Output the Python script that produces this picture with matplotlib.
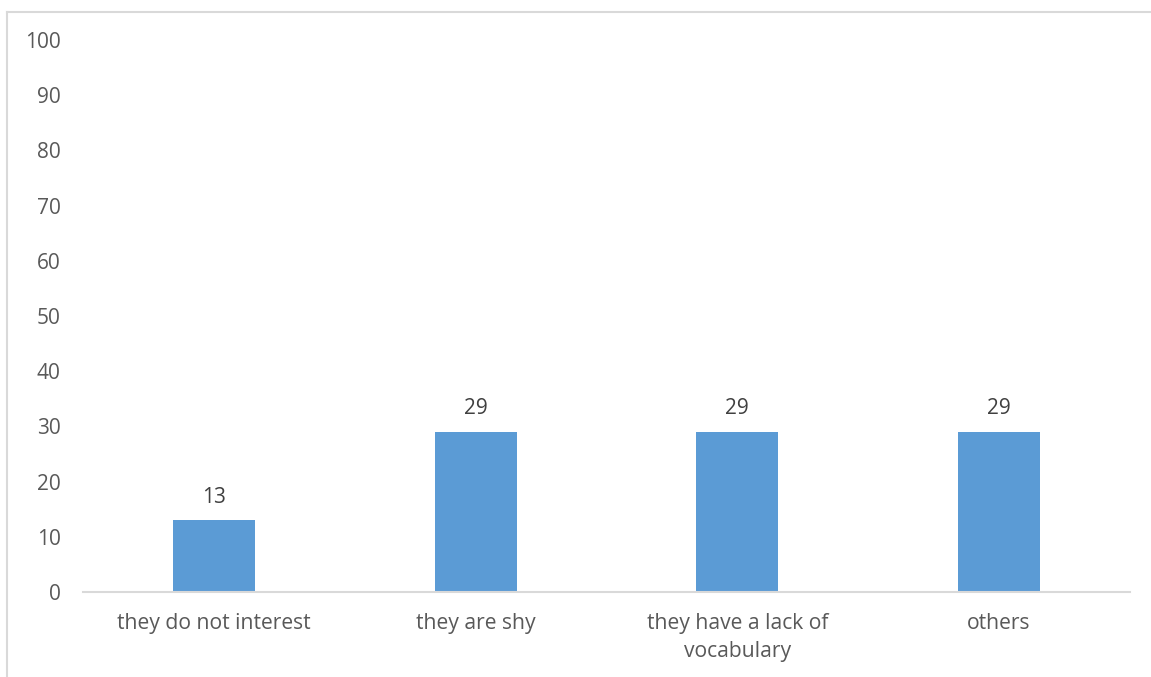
import matplotlib
matplotlib.use("Agg")
from matplotlib import pyplot as plt
from matplotlib.lines import Line2D

categories = ["they do not interest", "they are shy", "they have a lack of\nvocabulary", "others"]
values = [13, 29, 29, 29]
yticks = [0, 10, 20, 30, 40, 50, 60, 70, 80, 90, 100]

W, H = 1151, 677
plt.rcParams['font.family'] = ['Open Sans', 'DejaVu Sans']
text_color = "#595959"

fig = plt.figure(figsize=(W / 100, H / 100), dpi=100)
# outer chart border (top and left edges only are visible)
frame_kw = dict(transform=fig.transFigure, color="#d9d9d9", linewidth=1.5)
fig.lines.append(Line2D([7.5 / W, 1], [1 - 11.5 / H, 1 - 11.5 / H], **frame_kw))
fig.lines.append(Line2D([7.5 / W, 7.5 / W], [0, 1 - 11.5 / H], **frame_kw))

ax = fig.add_axes([83 / W, 1 - 592 / H, (1130 - 83) / W, (592 - 40) / H])
x = range(len(categories))
bars = ax.bar(x, values, width=0.313, color="#5b9bd5")

for b, v in zip(bars, values):
    ax.annotate(str(v), (b.get_x() + b.get_width() / 2, v), xytext=(0, 9),
                textcoords="offset points", ha="center", va="bottom",
                fontsize=15, color="#404040")

ax.set_xlim(-0.5, len(categories) - 0.5)
ax.set_ylim(0, 100)
ax.set_yticks(yticks)
ax.set_xticks(list(x))
ax.set_xticklabels(categories, fontsize=15.2, color=text_color, linespacing=1.45)
ax.tick_params(axis="y", labelsize=15, labelcolor=text_color, length=0, pad=16)
ax.tick_params(axis="x", length=0, pad=15)

for s in ["top", "right", "left"]:
    ax.spines[s].set_visible(False)
ax.spines["bottom"].set_color("#d9d9d9")
ax.spines["bottom"].set_linewidth(1.5)

fig.savefig("out.png", dpi=100)
